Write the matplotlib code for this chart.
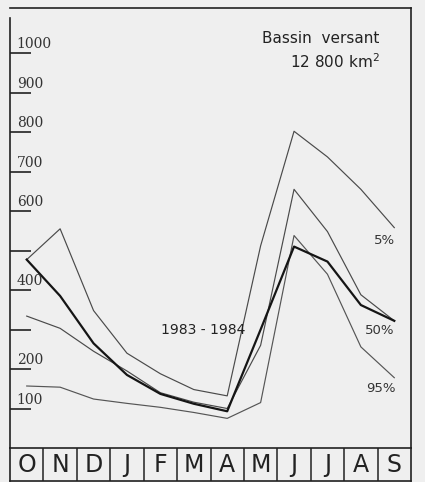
import matplotlib
matplotlib.use("Agg")
import matplotlib.pyplot as plt
from matplotlib import font_manager

months = ['O', 'N', 'D', 'J', 'F', 'M', 'A', 'M', 'J', 'J', 'A', 'S']
q5 = [477, 555, 348, 240, 188, 148, 132, 512, 802, 737, 655, 558]
q50 = [334, 303, 245, 195, 140, 116, 100, 260, 655, 548, 388, 322]
q95 = [157, 154, 124, 113, 103, 90, 75, 115, 538, 440, 256, 178]
y1983_84 = [477, 385, 265, 185, 137, 112, 93, 300, 510, 472, 362, 322]
yticks = [100, 200, 300, 400, 500, 600, 700, 800, 900, 1000]
ylabels = [100, 200, 400, 600, 700, 800, 900, 1000]

names = {f.name for f in font_manager.fontManager.ttflist}
month_font = 'Liberation Sans Narrow' if 'Liberation Sans Narrow' in names else 'DejaVu Sans'

BG = '#efefef'
W, H = 425, 482
fig = plt.figure(figsize=(W / 100, H / 100), dpi=100, facecolor=BG)

x0, x1 = 10, 411
ytop, ybase, ybot = 8, 448, 481
ax = fig.add_axes([x0 / W, (H - ybase) / H, (x1 - x0) / W, (ybase - ytop) / H])
ax.set_facecolor(BG)
ymax = (447.4 - ytop) / 0.3944
ax.set_xlim(0, 12)
ax.set_ylim(0, ymax)

xs = [i + 0.5 for i in range(len(months))]
ax.plot(xs, q5, color='#4a4a4a', lw=0.85)
ax.plot(xs, q50, color='#4a4a4a', lw=0.85)
ax.plot(xs, q95, color='#555555', lw=0.85)
ax.plot(xs, y1983_84, color='#151515', lw=1.6)

for s in ['left', 'right', 'top']:
    ax.spines[s].set_linewidth(1.2)
    ax.spines[s].set_color('#222222')
ax.spines['bottom'].set_visible(False)
ax.spines['left'].set_bounds(0, (447.4 - 18) / 0.3944)

ax.set_xticks([])
ax.set_yticks(yticks)
ax.set_yticklabels([])
ax.tick_params(axis='y', direction='in', length=15, width=1.2, color='#222222', pad=0)

for v in ylabels:
    ax.text(0.2, v + 4, str(v), fontsize=10, family='DejaVu Serif',
            color='#333333', ha='left', va='bottom')

ax.text(11.05, 1038, 'Bassin  versant', fontsize=11, family='DejaVu Sans',
        color='#222222', ha='right', va='center')
ax.text(11.05, 977, '12 800 km$^{2}$', fontsize=11, family='DejaVu Sans',
        color='#222222', ha='right', va='center')

ax.text(11.22, 526, '5%', fontsize=9.5, color='#333333', ha='center', va='center')
ax.text(11.07, 297, '50%', fontsize=9.5, color='#333333', ha='center', va='center')
ax.text(11.1, 150, '95%', fontsize=9.5, color='#333333', ha='center', va='center')
ax.text(5.78, 298, '1983 - 1984', fontsize=10, color='#222222', ha='center', va='center')

# month row
axm = fig.add_axes([x0 / W, (H - ybot) / H, (x1 - x0) / W, (ybot - ybase) / H])
axm.set_facecolor(BG)
axm.set_xlim(0, 12)
axm.set_ylim(0, 1)
axm.set_xticks([])
axm.set_yticks([])
for s in axm.spines.values():
    s.set_linewidth(1.2)
    s.set_color('#222222')
for i in range(1, 12):
    axm.axvline(i, color='#222222', lw=1.1)
for x, m in zip(xs, months):
    axm.text(x, 0.47, m, fontsize=17, family=month_font,
             color='#222222', ha='center', va='center')

fig.savefig('out.png', dpi=100, facecolor=BG)
